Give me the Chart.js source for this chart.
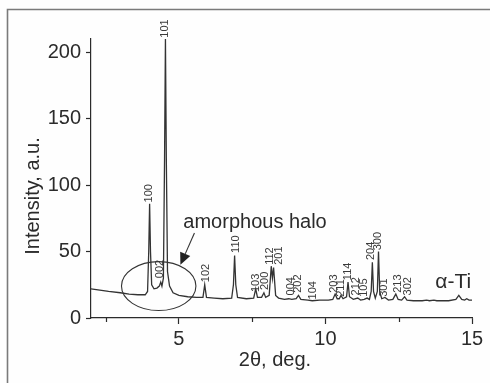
<!DOCTYPE html>
<html>
<head>
<meta charset="utf-8">
<script src="https://cdn.jsdelivr.net/npm/chart.js@4.4.1/dist/chart.umd.min.js"></script>
<style>
  html, body { margin: 0; padding: 0; background: #fefefe; }
  #wrap { width: 490px; height: 383px; position: relative; }
</style>
</head>
<body>
<div id="wrap"><canvas id="xrd"></canvas></div>
<script>
// XRD pattern
const twoTheta = [
  2.00, 2.30, 2.60, 3.00, 3.30, 3.60, 3.85, 3.93, 3.97, 4.00, 4.03, 4.07, 4.15, 4.25, 4.33, 4.38, 4.42,
  4.47, 4.51, 4.54, 4.57, 4.61, 4.68, 4.80, 5.00, 5.30, 5.60, 5.82, 5.88, 5.94, 6.20, 6.50, 6.80,
  6.86, 6.90, 6.94, 7.00, 7.30, 7.55, 7.62, 7.68, 7.82, 7.90, 7.96, 8.08, 8.15, 8.19, 8.23, 8.30,
  8.40, 8.60, 8.75, 8.85, 9.00, 9.08, 9.16, 9.40, 9.55, 9.80, 10.10, 10.25, 10.33, 10.40, 10.47,
  10.53, 10.60, 10.72, 10.77, 10.82, 10.95, 11.10, 11.20, 11.32, 11.42, 11.50, 11.56, 11.60, 11.64,
  11.70, 11.77, 11.81, 11.85, 11.92, 12.03, 12.15, 12.30, 12.40, 12.48, 12.60, 12.70, 12.78, 13.00,
  13.30, 13.45, 13.55, 13.70, 13.80, 14.20, 14.45, 14.55, 14.65, 14.75, 14.82, 14.90, 15.00
];
const intensity = [
  22, 21, 20, 19, 18, 17.5, 17.5, 20, 50, 86, 50, 25, 22, 22.5, 24, 27, 24,
  30, 120, 210, 120, 35, 24, 19, 17, 16, 15.5, 15.5, 25, 15.5, 15, 14.5, 15,
  25, 47, 25, 15.5, 14.5, 15, 22, 15.5, 15.5, 19, 15.5, 17, 39, 30, 38, 17,
  15, 14, 14.5, 14, 14.5, 17, 14, 13.5, 13, 13.5, 13.5, 14, 18, 14.5, 14.5,
  17, 14.5, 16, 27, 16, 14, 15, 13.5, 14, 15, 14, 20, 42, 20,
  15, 20, 50, 20, 14.5, 15.5, 13.5, 14, 18, 14, 13.5, 16, 13.5, 13,
  13, 13.5, 13, 13.5, 13, 13, 14, 17, 14, 13.5, 14.5, 13.5, 13.5
];

// reflection labels: hkl, 2θ of the label, intensity where the label starts
const hkl      = ['100', '002', '101', '102', '110', '103', '200', '112', '201', '004', '202',
                  '104', '203', '211', '114', '212', '105', '204', '300', '301', '213', '302'];
const hklPos   = [3.99, 4.36, 4.53, 5.92, 6.93, 7.62, 7.92, 8.09, 8.40, 8.82, 9.05,
                  9.57, 10.29, 10.53, 10.77, 11.04, 11.30, 11.55, 11.80, 12.00, 12.48, 12.82];
const hklLevel = [87, 30, 211, 27, 49, 19.5, 21, 40, 40, 17, 19,
                  14, 19, 16, 28.5, 17, 16, 43.6, 51, 16, 19, 17];

const xTicks = [2.5, 5, 7.5, 10, 12.5, 15];
const yTicks = [0, 50, 100, 150, 200];

const FONT = "'Liberation Sans', Arial, Helvetica, sans-serif";
const INK = '#2b2b2b';

const decorations = {
  id: 'decorations',
  beforeDraw(chart) {
    const ctx = chart.ctx;
    ctx.save();
    ctx.fillStyle = '#fefefe';
    ctx.fillRect(0, 0, chart.width, chart.height);
    // figure frame (only left and top edges are inside the picture)
    ctx.strokeStyle = '#7a7a7a';
    ctx.lineWidth = 1.6;
    ctx.beginPath();
    ctx.moveTo(7.5, chart.height);
    ctx.lineTo(7.5, 9.5);
    ctx.lineTo(chart.width, 9.5);
    ctx.stroke();
    ctx.restore();
  },
  afterDraw(chart) {
    const ctx = chart.ctx;
    const xs = chart.scales.x, ys = chart.scales.y;
    const area = chart.chartArea;
    ctx.save();

    // minor x ticks
    ctx.strokeStyle = INK;
    ctx.lineWidth = 1.2;
    xTicks.filter(v => v % 5 !== 0).forEach(v => {
      const px = Math.round(xs.getPixelForValue(v)) + 0.5;
      ctx.beginPath();
      ctx.moveTo(px, area.bottom);
      ctx.lineTo(px, area.bottom + 4);
      ctx.stroke();
    });

    // axis titles
    ctx.fillStyle = INK;
    ctx.font = '20px ' + FONT;
    ctx.textAlign = 'center';
    ctx.textBaseline = 'middle';
    ctx.fillText('2θ, deg.', 275, 360);
    ctx.save();
    ctx.translate(33, 196);
    ctx.rotate(-Math.PI / 2);
    ctx.fillText('Intensity, a.u.', 0, 0);
    ctx.restore();

    // hkl labels
    ctx.fillStyle = '#3a3a3a';
    ctx.font = '11px ' + FONT;
    ctx.textAlign = 'left';
    ctx.textBaseline = 'middle';
    hkl.forEach((lab, i) => {
      const px = xs.getPixelForValue(hklPos[i]);
      const py = ys.getPixelForValue(hklLevel[i]);
      ctx.save();
      ctx.translate(px, py);
      ctx.rotate(-Math.PI / 2);
      ctx.fillText(lab, 0, 0);
      ctx.restore();
    });

    // amorphous halo ellipse
    const cx = xs.getPixelForValue(4.31), cy = ys.getPixelForValue(24);
    const rx = xs.getPixelForValue(4.31 + 1.27) - cx;
    const ry = cy - ys.getPixelForValue(24 + 18.4);
    ctx.strokeStyle = '#333';
    ctx.lineWidth = 1.1;
    ctx.beginPath();
    ctx.ellipse(cx, cy, rx, ry, 0, 0, Math.PI * 2);
    ctx.stroke();

    // arrow
    const ax0 = xs.getPixelForValue(5.53), ay0 = ys.getPixelForValue(64);
    const ax1 = xs.getPixelForValue(5.05), ay1 = ys.getPixelForValue(40);
    const ang = Math.atan2(ay1 - ay0, ax1 - ax0);
    const hl = 12, hw = 5.5;
    const bx = ax1 - hl * Math.cos(ang), by = ay1 - hl * Math.sin(ang);
    ctx.beginPath();
    ctx.moveTo(ax0, ay0);
    ctx.lineTo(bx, by);
    ctx.stroke();
    ctx.fillStyle = '#222';
    ctx.beginPath();
    ctx.moveTo(ax1, ay1);
    ctx.lineTo(bx + hw * Math.sin(ang), by - hw * Math.cos(ang));
    ctx.lineTo(bx - hw * Math.sin(ang), by + hw * Math.cos(ang));
    ctx.closePath();
    ctx.fill();

    // text annotations
    ctx.fillStyle = INK;
    ctx.textBaseline = 'alphabetic';
    ctx.font = '20px ' + FONT;
    ctx.textAlign = 'left';
    ctx.fillText('amorphous halo', xs.getPixelForValue(5.15), ys.getPixelForValue(67.5));
    ctx.font = '21px ' + FONT;
    ctx.textAlign = 'right';
    ctx.fillText('α-Ti', xs.getPixelForValue(14.97), ys.getPixelForValue(22.5));

    ctx.restore();
  }
};

const ctx = document.getElementById('xrd').getContext('2d');
window.xrdChart = new Chart(ctx, {
  type: 'line',
  data: {
    datasets: [{
      data: twoTheta.map((x, i) => ({ x: x, y: intensity[i] })),
      borderColor: '#333',
      borderWidth: 1.3,
      pointRadius: 0,
      tension: 0,
      fill: false
    }]
  },
  options: {
    responsive: true,
    maintainAspectRatio: false,
    animation: false,
    layout: { padding: { left: 0, top: 39, right: 18, bottom: 0 } },
    plugins: { legend: { display: false }, tooltip: { enabled: false } },
    scales: {
      x: {
        type: 'linear',
        min: 2, max: 15,
        afterFit: s => { s.height = 65; },
        afterBuildTicks: s => { s.ticks = xTicks.map(v => ({ value: v })); },
        grid: {
          display: true, drawOnChartArea: false, drawTicks: true, tickLength: 6,
          tickWidth: 1.2,
          tickColor: c => (c.tick && c.tick.value % 5 === 0) ? INK : 'rgba(0,0,0,0)'
        },
        border: { display: true, color: INK, width: 1.2 },
        ticks: {
          color: INK, padding: 3, maxRotation: 0, autoSkip: false,
          font: { family: FONT, size: 20 },
          callback: v => (v % 5 === 0 ? String(v) : '')
        }
      },
      y: {
        min: 0, max: 210,
        afterFit: s => { s.width = 91; },
        afterBuildTicks: s => { s.ticks = yTicks.map(v => ({ value: v })); },
        grid: {
          display: true, drawOnChartArea: false, drawTicks: true, tickLength: 5,
          tickWidth: 1.2, tickColor: INK
        },
        border: { display: true, color: INK, width: 1.2 },
        ticks: {
          color: INK, padding: 5,
          font: { family: FONT, size: 20 }
        }
      }
    }
  },
  plugins: [decorations]
});
</script>
</body>
</html>
